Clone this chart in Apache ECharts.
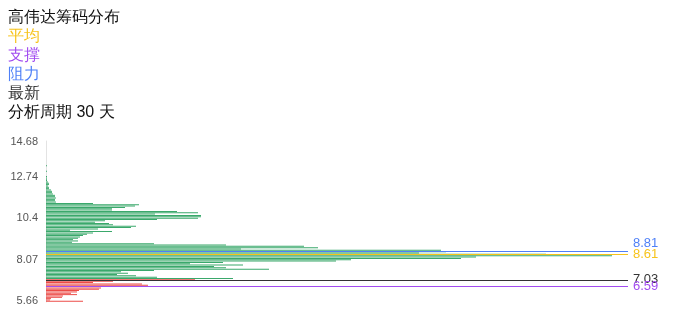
<!DOCTYPE html>
<html><head><meta charset="utf-8">
<script src="https://cdn.jsdelivr.net/npm/echarts@6/dist/echarts.min.js"></script>
<style>html,body{margin:0;padding:0;background:#fff}#c{width:696px;height:320px}</style>
</head><body><div id="c"></div>
<script>
const stockName = '高伟达';
const periodDays = 30;
const prices = ['5.66','5.74','5.83','5.91','6.00','6.08','6.17','6.25','6.34','6.42',
'6.51','6.59','6.68','6.77','6.85','6.94','7.03','7.10','7.17','7.24',
'7.31','7.38','7.45','7.52','7.58','7.65','7.72','7.79','7.86','7.93',
'8.00','8.07','8.21','8.34','8.48','8.61','8.71','8.81','8.87','8.94',
'9.00','9.06','9.13','9.19','9.26','9.32','9.38','9.45','9.51','9.57',
'9.64','9.70','9.76','9.83','9.89','9.96','10.02','10.08','10.15','10.21',
'10.27','10.34','10.4','10.48','10.55','10.63','10.70','10.78','10.85','10.93',
'11.00','11.08','11.15','11.23','11.31','11.38','11.46','11.53','11.61','11.68',
'11.76','11.83','11.91','11.99','12.06','12.14','12.21','12.29','12.36','12.44',
'12.51','12.59','12.66','12.74','12.81','12.89','12.96','13.04','13.11','13.19',
'13.26','13.34','13.41','13.49','13.56','13.64','13.71','13.78','13.86','13.93',
'14.01','14.08','14.16','14.23','14.31','14.38','14.46','14.53','14.61','14.68'];
const chips = [37,4,5,16,17,31,25,31,33,53,
55,54,102,96,47,67,149,187,111,90,
71,82,75,108,223,180,168,197,144,177,
290,305,415,430,566,500,373,400,395,195,
272,258,180,108,26,32,27,32,34,37,
41,47,66,24,52,85,90,67,63,49,
59,111,152,155,155,109,152,131,66,66,
79,89,93,47,10,9,9,10,9,9,
7,6,6,5,3,3,2,3,3,2,
1,1,1,1,0,0,0,1,0,0,
0,1,0,0,0,0,0,0,0,0,
0,0,0,0,0,0,0,0,0,0];
const tickLabels = ['5.66','8.07','10.4','12.74','14.68'];
const avgPrice = '8.61';
const supportPrice = '6.59';
const resistPrice = '8.81';
const latestPrice = '7.03';

const cYellow = '#f7c31b', cPurple = '#a24cf0', cBlue = '#4f80f7', cDark = '#333333';
const cGreen = '#3aa86b', cRed = '#ec4b47';

const chart = echarts.init(document.getElementById('c'), null, {renderer: 'canvas'});
const richBase = {fontSize: 16, lineHeight: 19, fontWeight: 'normal', fontFamily: 'sans-serif'};
chart.setOption({
  animation: false,
  title: {
    left: 8, top: 8, padding: 0,
    text: '{t|' + stockName + '筹码分布}\n{a|平均}\n{s|支撑}\n{r|阻力}\n{n|最新}\n{t|分析周期 ' + periodDays + ' 天}',
    textStyle: {
      fontFamily: 'sans-serif', fontSize: 16, fontWeight: 'normal',
      rich: {
        t: Object.assign({color: '#111'}, richBase),
        a: Object.assign({color: cYellow}, richBase),
        s: Object.assign({color: cPurple}, richBase),
        r: Object.assign({color: cBlue}, richBase),
        n: Object.assign({color: '#333'}, richBase)
      }
    }
  },
  grid: {left: 46, right: 68, top: 141, bottom: 18},
  xAxis: {type: 'value', min: 0, max: 582, show: false},
  yAxis: {
    type: 'category', data: prices,
    axisLine: {show: true, lineStyle: {color: '#e3e3e3'}},
    axisTick: {show: false},
    splitLine: {show: false},
    axisLabel: {
      color: '#555', fontSize: 11,
      interval: function (i, v) { return tickLabels.indexOf(v) >= 0; }
    }
  },
  series: [{
    type: 'bar',
    data: chips,
    itemStyle: {
      color: function (p) { return parseFloat(prices[p.dataIndex]) <= parseFloat(latestPrice) ? cRed : cGreen; }
    },
    markLine: {
      silent: true, symbol: 'none', animation: false,
      label: {position: 'end', fontSize: 13},
      data: [
        {yAxis: resistPrice, lineStyle: {color: cBlue, width: 1, type: 'solid'}, label: {color: cBlue, formatter: resistPrice + '\n ', lineHeight: 17}},
        {yAxis: avgPrice, lineStyle: {color: cYellow, width: 1, type: 'solid'}, label: {color: cYellow, formatter: avgPrice}},
        {yAxis: latestPrice, lineStyle: {color: cDark, width: 1, type: 'solid'}, label: {color: cDark, formatter: latestPrice}},
        {yAxis: supportPrice, lineStyle: {color: cPurple, width: 1, type: 'solid'}, label: {color: cPurple, formatter: supportPrice}}
      ]
    }
  }]
});
</script>
</body></html>
